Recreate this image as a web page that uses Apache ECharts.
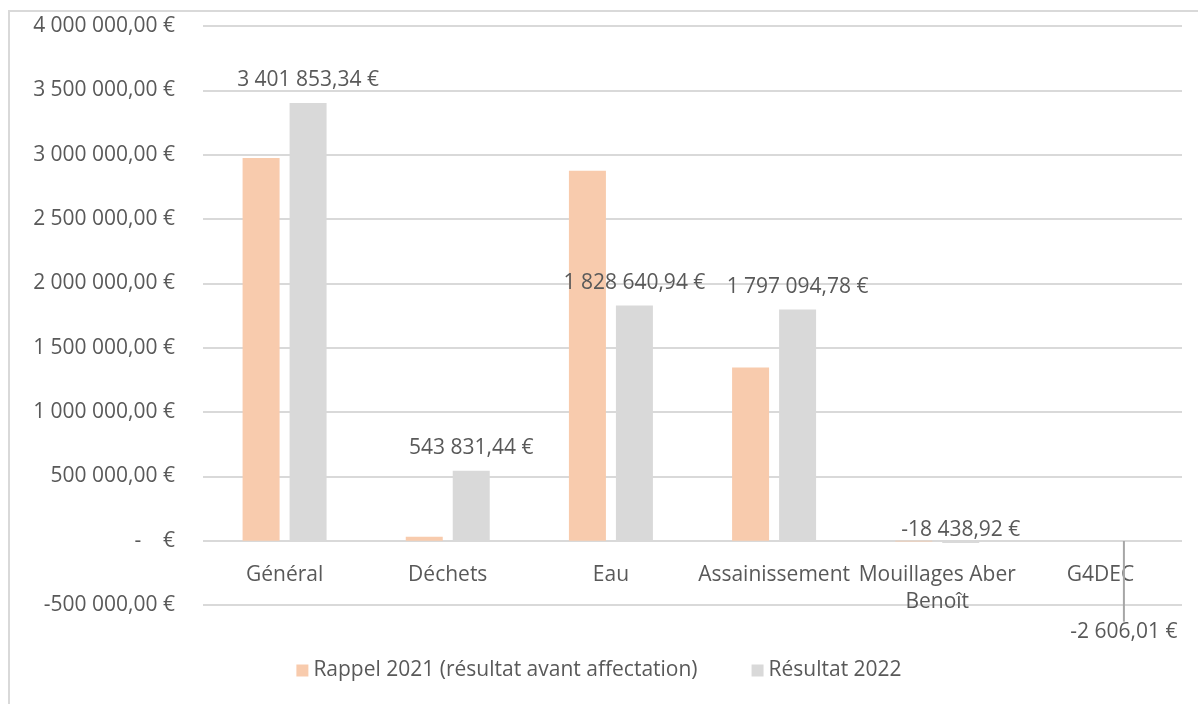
<!DOCTYPE html>
<html>
<head>
<meta charset="utf-8">
<script src="https://cdn.jsdelivr.net/npm/echarts@6/dist/echarts.min.js"></script>
<style>
html,body{margin:0;padding:0;background:#fff;}
#frame{position:absolute;left:8px;top:10px;width:1300px;height:800px;border:2px solid #d9d9d9;box-sizing:border-box;}
#chart{position:absolute;left:0;top:0;width:1198px;height:704px;}
</style>
</head>
<body>
<div id="frame"></div>
<div id="chart"></div>
<script>
const categories = ["Général", "Déchets", "Eau", "Assainissement", "Mouillages Aber Benoît", "G4DEC"];
const rappel2021 = [2975000, 30000, 2875000, 1345000, -6000, 0];
const resultat2022 = [3401853.34, 543831.44, 1828640.94, 1797094.78, -18438.92, -2606.01];
const seriesNames = ["Rappel 2021 (résultat avant affectation)", "Résultat 2022"];
const yTicks = { min: -500000, max: 4000000, interval: 500000 };

function fmt(v) {
  const neg = v < 0;
  const parts = Math.abs(v).toFixed(2).split('.');
  const intp = parts[0].replace(/\B(?=(\d{3})+(?!\d))/g, ' ');
  return (neg ? '-' : '') + intp + ',' + parts[1] + ' €';
}

const chart = echarts.init(document.getElementById('chart'));
const FONT = 'Open Sans';
const FS = 21;
const TXT = '#595959';
chart.setOption({
  animation: false,
  textStyle: { fontFamily: FONT },
  grid: { left: 203, right: 16, top: 26, bottom: 99 },
  legend: {
    bottom: 18,
    left: 'center',
    icon: 'rect',
    itemWidth: 12,
    itemHeight: 12,
    itemGap: 54,
    itemStyle: { borderWidth: 0 },
    textStyle: { fontFamily: FONT, fontSize: FS, color: TXT },
    data: seriesNames
  },
  xAxis: {
    type: 'category',
    data: categories,
    axisLine: { show: false, onZero: false },
    axisTick: { show: false },
    axisLabel: {
      fontFamily: FONT, fontSize: FS, color: TXT, margin: -43, interval: 0, lineHeight: 27,
      verticalAlign: 'top',
      formatter: v => v.replace(' Benoît', '\nBenoît')
    }
  },
  yAxis: {
    type: 'value',
    min: yTicks.min, max: yTicks.max, interval: yTicks.interval,
    axisLine: { show: false },
    axisTick: { show: false },
    splitLine: { lineStyle: { color: '#d9d9d9', width: 2 } },
    axisLabel: {
      fontFamily: FONT, fontSize: FS, color: TXT, margin: 28,
      formatter: v => v === 0 ? '-    €' : fmt(v)
    }
  },
  series: [
    {
      name: seriesNames[0],
      type: 'bar',
      data: rappel2021,
      barWidth: 37,
      barGap: '27%',
      itemStyle: { color: '#f8cbad' }
    },
    {
      name: seriesNames[1],
      type: 'bar',
      data: resultat2022.map((v, i) => i === 5
        ? { value: v, labelLine: { show: true, lineStyle: { color: '#a6a6a6', width: 2 } } }
        : v),
      barWidth: 37,
      barGap: '27%',
      itemStyle: { color: '#d9d9d9' },
      label: {
        show: true,
        position: 'top',
        distance: 12,
        fontFamily: FONT, fontSize: FS, color: TXT,
        formatter: p => fmt(p.value)
      },
      labelLayout: function (p) {
        if (p.dataIndex === 4) return { dy: 12 };
        if (p.dataIndex === 5) return { dy: 114 };
        return {};
      },
      labelLine: { show: false }
    }
  ]
});
</script>
</body>
</html>
